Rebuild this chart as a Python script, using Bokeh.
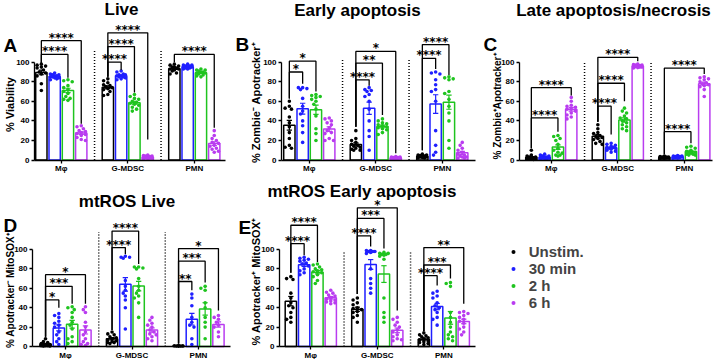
import math
from bokeh.plotting import figure
from bokeh.models import Range1d, FixedTicker, Legend, LegendItem
from bokeh.layouts import row, column
from bokeh.embed import file_html
from bokeh.resources import INLINE
from bokeh.core.properties import value

GROUPS = ["Mφ", "G-MDSC", "PMN"]
CONDITIONS = ["Unstim.", "30 min", "2 h", "6 h"]
COLORS = ["#000000", "#1f1fff", "#1fc41f", "#b93cf0"]

# ---- Panel A: Live (% Viability); per group: Unstim, 30 min, 2 h, 6 h
A_MPHI = [[98, 97, 96, 95, 94, 92, 90, 89, 88, 86, 78, 71],
          [89, 88, 87, 87, 86, 86, 85, 85, 84, 84, 83, 82],
          [82, 81, 80, 76, 74, 72, 70, 68, 65, 63, 62, 61],
          [35, 34, 32, 30, 29, 28, 27, 26, 25, 23, 21, 20]]
A_GMDSC = [[83, 81, 79, 77, 76, 75, 74, 73, 72, 70, 67, 66],
           [91, 90, 88, 87, 87, 86, 86, 85, 85, 84, 83, 82],
           [67, 65, 63, 62, 60, 59, 58, 57, 56, 54, 52, 50],
           [5, 4.5, 4, 4, 3.5, 3, 3, 2.5, 2, 2, 1.5, 1]]
A_PMN = [[98, 97, 96, 95, 95, 94, 93, 93, 92, 91, 89, 88],
         [98, 97, 97, 96, 96, 95, 95, 95, 94, 94, 93, 93],
         [93, 92, 92, 91, 90, 90, 89, 89, 88, 87, 86, 85],
         [30, 25, 22, 20, 18, 17, 15, 14, 12, 11, 9, 8]]

# ---- Panel B: Early apoptosis
B_MPHI = [[60, 55, 53, 52, 44, 38, 34, 28, 22, 15, 13, 12],
          [74, 74, 73, 72, 63, 55, 50, 47, 40, 35, 28, 18],
          [67, 66, 65, 64, 62, 60, 57, 52, 45, 32, 27, 20],
          [43, 42, 40, 38, 36, 33, 30, 28, 27, 22, 20, 20]]
B_GMDSC = [[30, 22, 20, 18, 16, 15, 14, 13, 12, 11, 10, 10],
           [74, 72, 71, 70, 67, 65, 60, 52, 40, 30, 24, 10],
           [42, 40, 38, 37, 36, 35, 34, 33, 32, 31, 28, 26],
           [3.5, 3, 3, 2.5, 2.5, 2, 2, 2, 1.5, 1.5, 1, 1]]
B_PMN = [[6, 5, 5, 4.5, 4, 4, 3.5, 3, 3, 2.5, 2, 2],
         [90, 89, 88, 82, 77, 72, 70, 60, 30, 15, 8, 5],
         [85, 84, 83, 82, 70, 68, 62, 55, 48, 40, 20, 12],
         [18, 15, 12, 10, 8, 6, 5, 4, 3, 3, 2, 2]]

# ---- Panel C: Late apoptosis/necrosis
C_MPHI = [[10, 5, 4, 3, 3, 2, 2, 1.5, 1, 1, 1, 0.5],
          [6, 5, 4, 4, 3, 3, 2.5, 2, 2, 1.5, 1, 1],
          [25, 24, 22, 20, 16, 12, 10, 8, 7, 5, 5, 4],
          [64, 60, 56, 55, 54, 52, 52, 50, 48, 46, 44, 42]]
C_GMDSC = [[36, 32, 28, 27, 25, 24, 23, 22, 21, 19, 17, 16],
           [17, 16, 15, 14, 13, 13, 12, 12, 11, 10, 9, 8],
           [53, 50, 48, 45, 43, 42, 40, 38, 36, 34, 32, 30],
           [98, 97.5, 97, 97, 96.5, 96, 96, 95.5, 95, 95, 94.5, 94]]
C_PMN = [[4, 3.5, 3, 3, 3, 2.5, 2.5, 2, 2, 2, 1.5, 1.5],
         [4.5, 4, 4, 3.5, 3.5, 3, 3, 3, 2.5, 2.5, 2, 2],
         [14, 13, 12, 10, 9, 8, 8, 7, 6, 6, 5, 5],
         [85, 84, 83, 82, 80, 79, 78, 77, 76, 75, 72, 65]]

# ---- Panel D: mtROS Live
D_MPHI = [[8, 5, 4, 3, 2, 2, 1.5, 1, 1, 1, 0.5, 0.5],
          [34, 32, 30, 26, 24, 22, 20, 15, 12, 8, 5, 2],
          [41, 40, 38, 35, 30, 25, 22, 18, 10, 8, 5, 3],
          [41, 38, 35, 25, 20, 15, 12, 8, 5, 3, 2, 1]]
D_GMDSC = [[15, 13, 12, 10, 9, 8, 7, 6, 5, 4, 4, 3],
           [93, 92, 92, 91, 68, 62, 58, 55, 52, 48, 40, 18],
           [82, 82, 81, 80, 70, 62, 58, 55, 52, 50, 45, 30],
           [30, 27, 24, 22, 20, 17, 15, 13, 12, 10, 8, 6]]
D_PMN = [[1, 0.8, 0.6, 0.5, 0.5, 0.4],
         [54, 50, 42, 30, 25, 22, 20, 8, 2],
         [62, 60, 58, 45, 40, 30, 25, 20, 8],
         [32, 30, 28, 25, 22, 20, 15, 10]]

# ---- Panel E: mtROS Early apoptosis
E_MPHI = [[72, 70, 69, 55, 50, 45, 42, 40, 35, 30, 28, 25],
          [92, 91, 90, 89, 88, 86, 85, 83, 80, 78, 76, 74],
          [85, 84, 82, 80, 79, 78, 77, 76, 74, 72, 68, 65],
          [58, 56, 55, 53, 52, 50, 49, 48, 47, 46, 45, 44]]
E_GMDSC = [[50, 48, 45, 43, 40, 39, 38, 36, 35, 32, 30, 25],
           [99, 99, 98, 98, 98, 97, 96, 80, 70, 65, 60, 55],
           [97, 96, 96, 95, 95, 94, 93, 90, 50, 35, 30, 25],
           [30, 28, 25, 22, 20, 17, 15, 12, 10, 8, 7, 6]]
E_PMN = [[14, 12, 11, 10, 9, 8, 7, 6, 5, 4, 3, 2],
         [57, 55, 52, 50, 45, 42, 40, 38, 35, 30, 28, 22],
         [66, 65, 62, 35, 30, 25, 20, 15, 12, 10, 8, 6],
         [36, 35, 34, 32, 30, 28, 26, 24, 20, 18, 15, 12]]

# significance brackets: (group, from bar, to bar, line level, left leg end, right leg end, label)
A_SIG = [(0, 0, 2, 108, 99, 84, "****"), (0, 0, 3, 122, 99, 37, "****"),
         (1, 0, 1, 100, 85, 92, "****"), (1, 0, 2, 116, 85, 69, "****"), (1, 0, 3, 130, 85, 21, "****"),
         (2, 0, 3, 108, 100, 33, "****")]
B_SIG = [(0, 0, 1, 90, 63, 78, "*"), (0, 0, 2, 101, 63, 70, "*"),
         (1, 0, 1, 82, 34, 76, "****"), (1, 0, 2, 99, 34, 46, "**"), (1, 0, 3, 111, 34, 7, "*"),
         (2, 0, 1, 104, 10, 93, "****"), (2, 0, 2, 118, 10, 87, "****")]
C_SIG = [(0, 0, 2, 43, 12, 29, "****"), (0, 0, 3, 74, 12, 66, "****"),
         (1, 0, 1, 55, 39, 26, "****"), (1, 0, 2, 78.5, 39, 60, "****"), (1, 0, 3, 105, 39, 101, "****"),
         (2, 0, 2, 29, 6, 17, "****"), (2, 0, 3, 94, 6, 88, "****")]
D_SIG = [(0, 0, 1, 48, 10, 40, "*"), (0, 0, 2, 62, 10, 44, "***"), (0, 0, 3, 74, 10, 44, "*"),
         (1, 0, 1, 102, 17, 95, "****"), (1, 0, 2, 119, 17, 85, "****"),
         (2, 0, 1, 67, 3, 58, "**"), (2, 0, 2, 88, 3, 66, "***"), (2, 0, 3, 101, 3, 37, "*")]
E_SIG = [(0, 0, 1, 106, 76, 94, "****"), (0, 0, 2, 125, 76, 87, "****"),
         (1, 0, 1, 114, 54, 103, "****"), (1, 0, 2, 132, 54, 101, "***"), (1, 0, 3, 143, 54, 37, "*"),
         (2, 0, 1, 73, 16, 63, "****"), (2, 0, 2, 84, 16, 70, "***"), (2, 0, 3, 102, 16, 44, "**")]

FONT = "Liberation Sans"
PXX = 13.3  # pixels per x unit (layout)


def swarm(vals, pxx, pxy, d=3.6):
    order = sorted(range(len(vals)), key=lambda i: -vals[i])
    cands = [0.0, -0.16, 0.16, -0.32, 0.32]
    placed = []
    offs = [0.0] * len(vals)
    for i in order:
        chosen = None
        best, bestd = 0.0, -1.0
        for c in cands:
            ds = [math.hypot((c - px) * pxx, (vals[i] - py) * pxy) for px, py in placed]
            md = min(ds) if ds else 1e9
            if md >= d:
                chosen = c
                break
            if md > bestd:
                bestd, best = md, c
        if chosen is None:
            chosen = best
        offs[i] = chosen
        placed.append((chosen, vals[i]))
    return offs


def make_panel(groups_data, sig, ylabel, title, letter, geo):
    fx0, fy0, width, height = geo["box"]
    zero_py, pxy = geo["zero"], geo["pxy"]
    x0 = -(geo["mphi"] - fx0) / PXX

    def dx(px):
        return x0 + (px - fx0) / PXX

    def dy(py):
        return (zero_py - py) / pxy

    p = figure(width=width, height=height, output_backend="svg", toolbar_location=None,
               x_range=Range1d(x0, dx(fx0 + width)),
               y_range=Range1d(dy(fy0 + height), dy(fy0)), min_border=0)
    p.outline_line_color = None
    p.xgrid.visible = False
    p.ygrid.visible = False

    p.segment(x0=[2.5, 7.5], y0=[0, 0], x1=[2.5, 7.5], y1=[geo["sep"], geo["sep"]],
              line_color="black", line_width=1.5, line_dash="1 2")

    for g, bars in enumerate(groups_data):
        for k, vals in enumerate(bars):
            x = g * 5 + (k - 1.5)
            n = len(vals)
            m = sum(vals) / n
            sd = math.sqrt(sum((v - m) ** 2 for v in vals) / (n - 1))
            sem = sd / math.sqrt(n)
            c = COLORS[k]
            p.vbar(x=[x], top=[m], bottom=0, width=0.85, fill_color="white",
                   line_color=c, line_width=1.5)
            p.segment(x0=[x, x - 0.2, x - 0.2], y0=[m - sem, m - sem, m + sem],
                      x1=[x, x + 0.2, x + 0.2], y1=[m + sem, m - sem, m + sem],
                      line_color=c, line_width=1.2)
            offs = swarm(vals, PXX, pxy)
            p.scatter(x=[x + o for o in offs], y=vals, size=3.6, fill_color=c, line_color=None)

    xs, ys, tx, ty, tt = [], [], [], [], []
    for g, a, b, h, la, lb, lab in sig:
        xa = g * 5 + (a - 1.5)
        xb = g * 5 + (b - 1.5)
        xs.append([xa, xa, xb, xb])
        ys.append([la, h, h, lb])
        tx.append((xa + xb) / 2)
        ty.append(h)
        tt.append(lab)
    p.multi_line(xs, ys, line_color="black", line_width=1.3)
    p.text(x=tx, y=ty, text=tt, text_align="center", text_baseline="alphabetic",
           text_font=value("DejaVu Sans"), text_font_size="12px", text_font_style="bold",
           y_offset=-3, text_color="black")

    # axes drawn at fixed locations inside the frame
    ax_x = dx(geo["axis"])
    p.yaxis.fixed_location = ax_x
    p.yaxis.bounds = (0, 100)
    p.yaxis.ticker = FixedTicker(ticks=[0, 20, 40, 60, 80, 100])
    p.xaxis.fixed_location = 0
    p.xaxis.bounds = (ax_x, dx(geo["axis_end"]))
    p.xaxis.ticker = FixedTicker(ticks=[0, 5, 10])
    p.xaxis.major_label_overrides = {0: GROUPS[0], 5: GROUPS[1], 10: GROUPS[2]}
    for ax in (p.xaxis, p.yaxis):
        ax.axis_line_color = "black"
        ax.axis_line_width = 1.3
        ax.major_tick_line_width = 1.3
        ax.major_tick_in = 0
        ax.major_tick_out = 3
        ax.minor_tick_line_color = None
        ax.major_label_text_font = FONT
        ax.major_label_text_font_size = "8px"
        ax.major_label_text_font_style = "bold"
        ax.major_label_text_color = "black"
    p.xaxis.major_label_standoff = 1
    p.yaxis.major_label_standoff = 2

    # title, y-axis title and panel letter (anchored at their visual centres)
    p.text(x=[dx(geo["title"][0])], y=[dy(geo["title"][1])], text=[title],
           text_align="center", text_baseline="middle", text_font=value(FONT),
           text_font_size="17px", text_font_style="bold", text_color="black")
    p.text(x=[dx(geo["ylab"][0])], y=[dy(geo["ylab"][1])], text=[ylabel], angle=math.pi / 2,
           text_align="center", text_baseline="middle", text_font=value(FONT),
           text_font_size=geo["ylab"][2], text_font_style="bold", text_color="black")
    lx, ly = geo["letter"]
    p.text(x=[dx(lx)], y=[dy(ly)], text=[letter],
           text_align="left", text_baseline="middle", text_font=value(FONT),
           text_font_size="19px", text_font_style="bold", text_color="black")
    return p


GEO_A = dict(box=(0, 0, 233, 178), zero=159.5, pxy=0.978, axis=34, axis_end=225, mphi=60.8,
             sep=112, title=(121, 8.5), letter=(3, 45), ylab=(9, 104, "11px"))
GEO_B = dict(box=(233, 0, 245, 178), zero=159.5, pxy=0.978, axis=281, axis_end=475, mphi=308.8,
             sep=104, title=(357, 9.5), letter=(235, 44), ylab=(255, 102, "11px"))
GEO_C = dict(box=(478, 0, 238, 178), zero=159.5, pxy=0.978, axis=519, axis_end=712, mphi=550.8,
             sep=101, title=(613, 9.5), letter=(483, 43.5), ylab=(497, 106, "10px"))
GEO_D = dict(box=(0, 178, 233, 181), zero=346, pxy=0.97, axis=32, axis_end=230, mphi=65,
             sep=118, title=(126.5, 201), letter=(3, 225), ylab=(9.5, 290, "10px"))
GEO_E = dict(box=(233, 178, 245, 181), zero=346, pxy=0.97, axis=279, axis_end=475, mphi=310.3,
             sep=99, title=(361.5, 190.5), letter=(238, 226.5), ylab=(255.5, 281, "11px"))

pA = make_panel([A_MPHI, A_GMDSC, A_PMN], A_SIG, "% Viability", "Live", "A", GEO_A)
pB = make_panel([B_MPHI, B_GMDSC, B_PMN], B_SIG, "% Zombie⁻ Apotracker⁺", "Early apoptosis", "B", GEO_B)
pC = make_panel([C_MPHI, C_GMDSC, C_PMN], C_SIG, "% Zombie⁺Apotracker⁺", "Late apoptosis/necrosis", "C", GEO_C)
pD = make_panel([D_MPHI, D_GMDSC, D_PMN], D_SIG, "% Apotracker⁻ MitoSOX⁺", "mtROS Live", "D", GEO_D)
pE = make_panel([E_MPHI, E_GMDSC, E_PMN], E_SIG, "% Apotracker⁺ MitoSOX⁺", "mtROS Early apoptosis", "E", GEO_E)

# legend panel
pF = figure(width=238, height=181, output_backend="svg", toolbar_location=None,
            x_range=Range1d(0, 1), y_range=Range1d(0, 1),
            x_axis_type=None, y_axis_type=None, min_border=0)
pF.outline_line_color = None
pF.xgrid.visible = False
pF.ygrid.visible = False
items = []
for cond, c in zip(CONDITIONS, COLORS):
    r = pF.scatter(x=[-10], y=[-10], size=4, fill_color=c, line_color=None)
    items.append(LegendItem(label=cond, renderers=[r]))
leg = Legend(items=items, location=(29.7, 48.5), padding=0, margin=0, spacing=0,
             glyph_width=10, glyph_height=17, label_height=17, label_standoff=11,
             border_line_color=None, background_fill_alpha=0,
             label_text_font=FONT, label_text_font_size="15px", label_text_font_style="bold")
pF.add_layout(leg)

layout = column(row(pA, pB, pC), row(pD, pE, pF))
open("out.html", "w").write(file_html(layout, INLINE))
